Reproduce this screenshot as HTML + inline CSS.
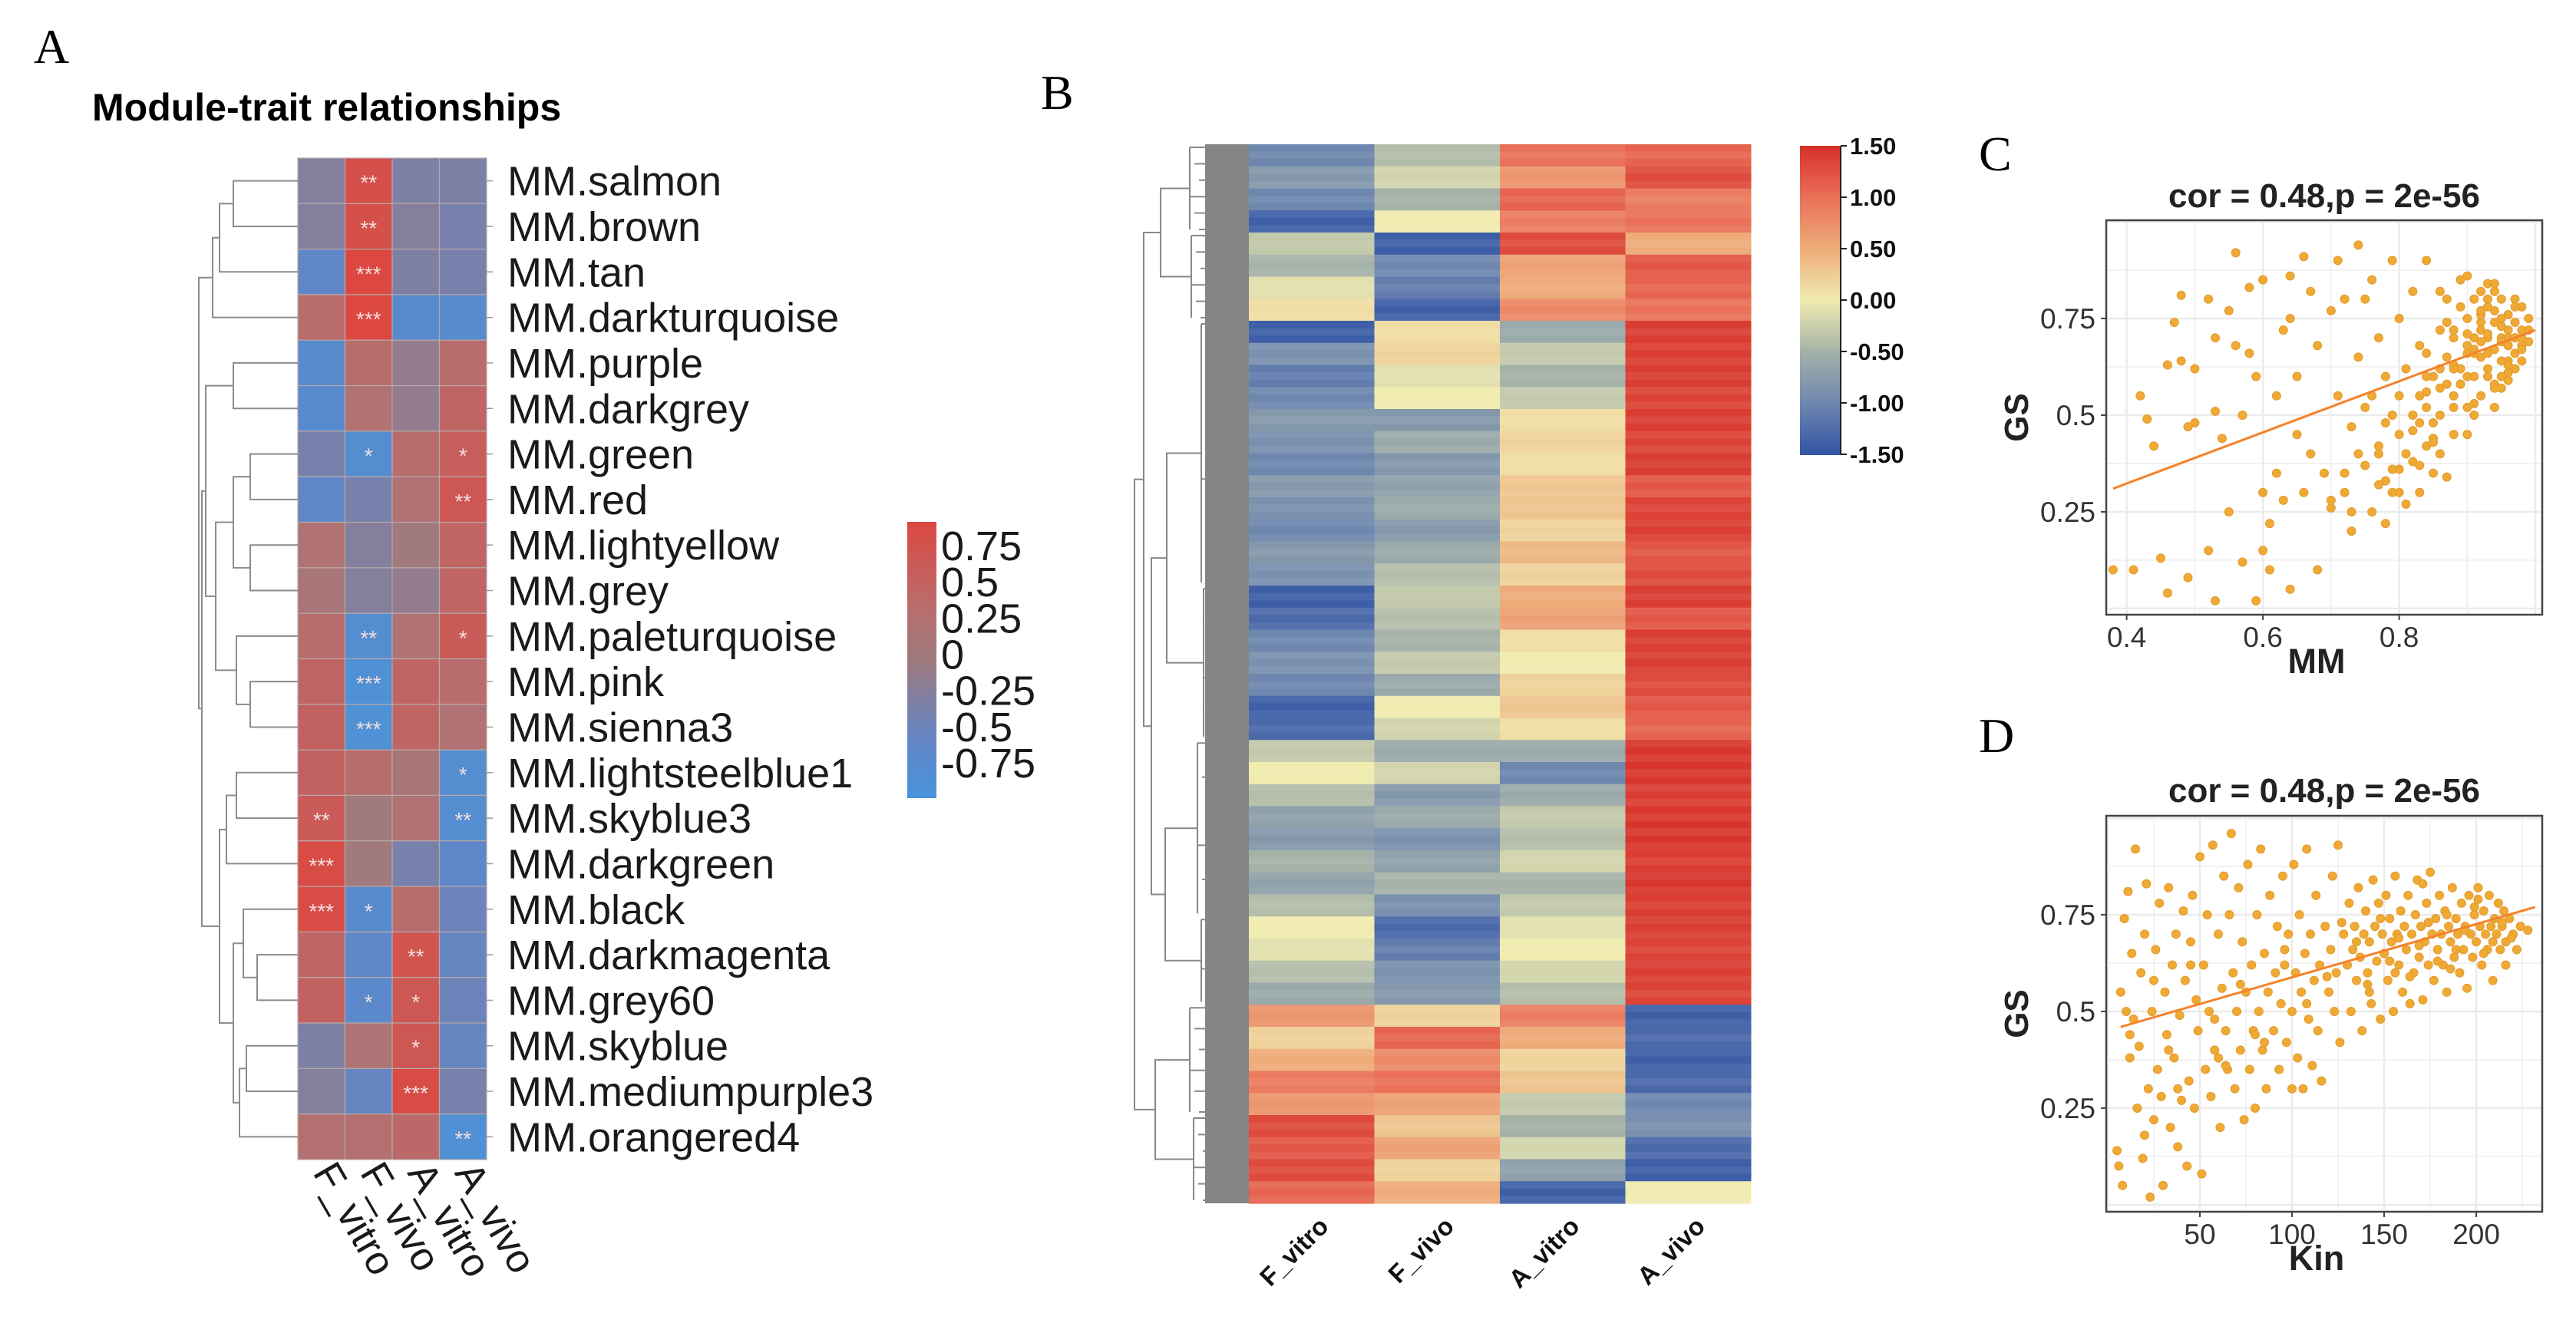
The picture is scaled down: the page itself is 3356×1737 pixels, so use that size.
<!DOCTYPE html>
<html><head><meta charset="utf-8"><style>
html,body{margin:0;padding:0;background:#fff;}
svg{display:block;font-family:"Liberation Sans",Arial,sans-serif;}
</style></head><body>
<svg id="fig" width="3356" height="1737" viewBox="0 0 3356 1737" xmlns="http://www.w3.org/2000/svg">
<rect width="3356" height="1737" fill="#fff"/>
<g id="panelA"></g>
<g id="panelB"></g>
<g id="panelC"></g>
<g id="panelD"></g>
</svg>
<script>
// ---------- Panel A data ----------
const modules = ["MM.salmon","MM.brown","MM.tan","MM.darkturquoise","MM.purple","MM.darkgrey","MM.green","MM.red","MM.lightyellow","MM.grey","MM.paleturquoise","MM.pink","MM.sienna3","MM.lightsteelblue1","MM.skyblue3","MM.darkgreen","MM.black","MM.darkmagenta","MM.grey60","MM.skyblue","MM.mediumpurple3","MM.orangered4"];
const traits = ["F_vitro","F_vivo","A_vitro","A_vivo"];
const corF_vitro = [-0.2,-0.2,-0.5,0.3,-0.6,-0.6,-0.3,-0.5,0.2,0.1,0.3,0.4,0.45,0.45,0.55,0.75,0.75,0.4,0.45,-0.25,-0.2,0.25];
const corF_vivo  = [0.7,0.7,0.8,0.8,0.3,0.2,-0.65,-0.3,-0.2,-0.2,-0.65,-0.7,-0.7,0.3,0.0,0.0,-0.6,-0.5,-0.55,0.15,-0.45,0.25];
const corA_vitro = [-0.25,-0.2,-0.25,-0.6,-0.1,-0.1,0.3,0.2,0.0,-0.1,0.2,0.4,0.4,0.1,0.2,-0.3,0.3,0.65,0.6,0.6,0.75,0.35];
const corA_vivo  = [-0.25,-0.3,-0.3,-0.6,0.3,0.4,0.5,0.6,0.4,0.4,0.55,0.3,0.2,-0.65,-0.65,-0.5,-0.4,-0.45,-0.4,-0.45,-0.3,-0.7];
const starsF_vitro = ["","","","","","","","","","","","","","","**","***","***","","","","",""];
const starsF_vivo  = ["**","**","***","***","","","*","","","","**","***","***","","","","*","","*","","",""];
const starsA_vitro = ["","","","","","","","","","","","","","","","","","**","*","*","***",""];
const starsA_vivo  = ["","","","","","","*","**","","","*","","","*","**","","","","","","","**"];
const legendATicks = [0.75,0.5,0.25,0,-0.25,-0.5,-0.75];

// ---------- Panel B data ----------
const bSamples = ["F_vitro","F_vivo","A_vitro","A_vivo"];
const zF_vitro = [-1.0,-0.8,-1.0,-1.4,-0.3,-0.5,-0.1,0.1,-1.4,-0.9,-1.1,-1.0,-0.8,-0.9,-1.0,-0.8,-0.9,-1.0,-0.8,-0.9,-1.4,-1.3,-1.0,-0.9,-1.0,-1.4,-1.3,-0.3,0.0,-0.4,-0.7,-0.8,-0.5,-0.7,-0.4,0.0,-0.1,-0.4,-0.6,0.7,0.2,0.5,0.9,0.7,1.3,1.2,1.3,1.1];
const zF_vivo  = [-0.4,-0.2,-0.5,0.0,-1.4,-1.0,-1.1,-1.4,0.1,0.2,-0.1,0.0,-0.8,-0.6,-0.8,-0.7,-0.6,-0.8,-0.6,-0.4,-0.3,-0.4,-0.5,-0.3,-0.6,0.0,-0.2,-0.6,-0.2,-0.8,-0.6,-0.9,-0.7,-0.5,-0.9,-1.3,-1.1,-0.9,-0.8,0.2,1.1,0.8,1.0,0.6,0.3,0.6,0.2,0.5];
const zA_vitro = [1.0,0.7,1.1,0.9,1.3,0.6,0.5,0.8,-0.6,-0.3,-0.5,-0.3,0.1,0.2,0.1,0.3,0.3,0.2,0.4,0.2,0.5,0.6,0.1,0.0,0.2,0.3,0.1,-0.6,-1.0,-0.6,-0.3,-0.4,-0.2,-0.5,-0.3,-0.1,0.0,-0.2,-0.4,0.9,0.5,0.2,0.3,-0.3,-0.5,-0.2,-0.7,-1.4];
const zA_vivo  = [1.1,1.3,0.9,1.0,0.5,1.2,1.1,1.0,1.4,1.4,1.4,1.35,1.4,1.35,1.4,1.2,1.35,1.4,1.2,1.3,1.4,1.2,1.4,1.4,1.3,1.2,1.1,1.45,1.45,1.4,1.45,1.45,1.4,1.45,1.4,1.4,1.35,1.4,1.35,-1.4,-1.3,-1.4,-1.3,-1.0,-0.9,-1.3,-1.4,0.0];
const legendBTicks = ["1.50","1.00","0.50","0.00","-0.50","-1.00","-1.50"];

// ---------- Panel C data (MM vs GS) ----------
const mmC = [0.38,0.41,0.42,0.43,0.44,0.45,0.46,0.46,0.47,0.48,0.48,0.49,0.49,0.5,0.5,0.52,0.52,0.53,0.53,0.53,0.54,0.55,0.55,0.56,0.56,0.57,0.57,0.58,0.58,0.59,0.59,0.6,0.6,0.6,0.61,0.61,0.62,0.62,0.63,0.63,0.64,0.64,0.64,0.65,0.65,0.66,0.66,0.67,0.67,0.68,0.68,0.69,0.7,0.7,0.71,0.71,0.72,0.72,0.73,0.73,0.74,0.74,0.75,0.75,0.76,0.76,0.77,0.77,0.78,0.78,0.79,0.79,0.8,0.8,0.8,0.81,0.82,0.82,0.83,0.83,0.84,0.84,0.85,0.85,0.86,0.86,0.87,0.87,0.88,0.88,0.88,0.89,0.89,0.9,0.9,0.9,0.91,0.91,0.92,0.92,0.92,0.93,0.93,0.93,0.94,0.94,0.94,0.95,0.95,0.95,0.96,0.96,0.96,0.97,0.97,0.97,0.98,0.98,0.99,0.99,0.91,0.89,0.87,0.86,0.85,0.84,0.83,0.82,0.81,0.79,0.78,0.76,0.74,0.93,0.95,0.97,0.92,0.9,0.88,0.94,0.96,0.98,0.95,0.93,0.91,0.89,0.97,0.99,0.94,0.92,0.9,0.87,0.86,0.84,0.96,0.98,0.93,0.95,0.91,0.88,0.85,0.83,0.8,0.77,0.72,0.7,
0.9,0.91,0.92,0.93,0.94,0.95,0.96,0.97,0.98,0.89,0.9,0.91,0.92,0.93,0.94,0.95,0.96,0.97,0.88,0.87,0.86,0.85,0.84,0.83,0.82,0.81,0.8,0.79,0.78,0.77,0.92,0.94,0.96,0.98,0.9,0.88,0.86,0.84,0.75,0.73];
const gsC = [0.1,0.1,0.55,0.49,0.42,0.13,0.63,0.04,0.74,0.81,0.64,0.47,0.08,0.48,0.62,0.8,0.15,0.7,0.51,0.02,0.44,0.77,0.25,0.92,0.68,0.12,0.5,0.66,0.83,0.02,0.6,0.85,0.15,0.3,0.22,0.1,0.55,0.35,0.72,0.28,0.86,0.75,0.05,0.6,0.45,0.91,0.3,0.82,0.4,0.1,0.68,0.35,0.77,0.26,0.9,0.55,0.3,0.8,0.2,0.47,0.94,0.65,0.37,0.52,0.85,0.25,0.7,0.42,0.33,0.6,0.9,0.5,0.45,0.75,0.3,0.62,0.38,0.82,0.55,0.68,0.42,0.9,0.6,0.35,0.72,0.5,0.65,0.8,0.55,0.7,0.45,0.62,0.85,0.68,0.52,0.75,0.6,0.8,0.65,0.72,0.55,0.7,0.78,0.62,0.67,0.74,0.58,0.7,0.8,0.64,0.72,0.68,0.76,0.7,0.74,0.66,0.72,0.68,0.72,0.75,0.5,0.78,0.58,0.82,0.48,0.66,0.3,0.5,0.4,0.3,0.22,0.55,0.4,0.84,0.6,0.62,0.82,0.6,0.63,0.52,0.64,0.78,0.73,0.66,0.7,0.58,0.8,0.69,0.77,0.74,0.66,0.74,0.62,0.56,0.7,0.64,0.71,0.57,0.67,0.72,0.44,0.48,0.36,0.4,0.35,0.28,
0.71,0.66,0.76,0.6,0.82,0.69,0.63,0.78,0.67,0.58,0.86,0.53,0.69,0.8,0.57,0.75,0.61,0.7,0.62,0.34,0.57,0.43,0.52,0.37,0.46,0.27,0.55,0.36,0.48,0.32,0.77,0.84,0.59,0.7,0.45,0.52,0.4,0.6,0.8,0.25];
const ticksCx = [0.4,0.6,0.8];
const ticksCy = [0.25,0.5,0.75];
const fitC = [[0.38,0.31],[1.0,0.72]];

// ---------- Panel D data (Kin vs GS) ----------
const kinD = [5,6,7,8,9,10,11,12,13,14,15,16,17,18,19,20,21,22,23,24,25,26,27,28,29,30,31,32,33,34,35,36,37,38,39,40,41,42,43,44,45,46,47,48,49,50,51,52,53,54,55,56,57,58,60,61,62,63,64,65,66,67,68,69,70,71,72,73,74,75,76,77,78,79,80,81,82,83,84,85,86,87,88,90,91,92,93,94,95,96,97,98,100,101,102,103,104,105,106,107,108,109,110,111,112,113,114,115,116,118,120,121,122,123,124,125,126,128,130,131,132,133,134,135,136,137,138,139,140,141,142,143,144,145,146,147,148,149,150,151,152,153,154,155,156,157,158,159,160,161,162,163,164,165,166,167,168,169,170,171,172,173,174,175,176,177,178,179,180,181,182,183,184,185,186,187,188,189,190,191,192,193,194,195,196,197,198,199,200,201,202,203,204,205,206,207,208,209,210,211,212,213,214,215,216,218,220,222,224,228,
12,25,38,45,58,64,72,85,96,108,119,127,135,141,148,153,158,164,169,174,179,184,189,194,199,204,209,214,219,142,156,171,186,201,216,60,80,100,33,20];
const gsD = [0.14,0.1,0.55,0.05,0.74,0.5,0.81,0.38,0.65,0.48,0.92,0.25,0.41,0.6,0.12,0.7,0.83,0.3,0.02,0.5,0.22,0.66,0.35,0.78,0.28,0.05,0.55,0.44,0.82,0.2,0.62,0.38,0.7,0.15,0.49,0.27,0.76,0.58,0.1,0.32,0.68,0.8,0.25,0.53,0.45,0.9,0.08,0.62,0.35,0.75,0.5,0.28,0.93,0.4,0.7,0.2,0.56,0.85,0.45,0.35,0.75,0.96,0.6,0.3,0.5,0.82,0.4,0.68,0.22,0.55,0.88,0.35,0.62,0.45,0.25,0.75,0.5,0.92,0.4,0.65,0.3,0.55,0.8,0.45,0.6,0.72,0.35,0.52,0.85,0.62,0.42,0.7,0.5,0.88,0.6,0.38,0.75,0.55,0.3,0.65,0.92,0.48,0.7,0.36,0.58,0.8,0.45,0.62,0.32,0.72,0.55,0.66,0.85,0.5,0.6,0.93,0.42,0.7,0.62,0.78,0.5,0.66,0.72,0.58,0.82,0.64,0.45,0.7,0.76,0.6,0.68,0.52,0.84,0.72,0.63,0.78,0.48,0.7,0.65,0.8,0.58,0.74,0.68,0.5,0.85,0.7,0.62,0.76,0.55,0.72,0.66,0.8,0.52,0.7,0.6,0.75,0.84,0.64,0.72,0.53,0.68,0.78,0.62,0.86,0.7,0.58,0.74,0.66,0.8,0.7,0.62,0.76,0.55,0.72,0.68,0.82,0.64,0.74,0.7,0.6,0.78,0.66,0.72,0.56,0.8,0.7,0.64,0.75,0.68,0.82,0.72,0.62,0.76,0.7,0.66,0.8,0.72,0.58,0.74,0.7,0.78,0.66,0.72,0.76,0.68,0.74,0.7,0.66,0.72,0.71,
0.44,0.58,0.3,0.62,0.48,0.36,0.57,0.42,0.66,0.52,0.59,0.73,0.68,0.57,0.74,0.63,0.69,0.59,0.67,0.73,0.63,0.75,0.66,0.71,0.77,0.65,0.68,0.73,0.69,0.55,0.6,0.83,0.61,0.79,0.62,0.38,0.44,0.3,0.4,0.18];
const ticksDx = [50,100,150,200];
const ticksDy = [0.25,0.5,0.75];
const fitD = [[7,0.46],[232,0.77]];

// ---------- helpers ----------
const NS = "http://www.w3.org/2000/svg";
function mk(tag, attrs, parent, txt){
  const e = document.createElementNS(NS, tag);
  for (const k in attrs) e.setAttribute(k, attrs[k]);
  if (txt !== undefined) e.textContent = txt;
  parent.appendChild(e);
  return e;
}
function lerpColor(stops, v){
  if (v <= stops[0][0]) return stops[0][1];
  for (let i=1;i<stops.length;i++){
    if (v <= stops[i][0]){
      const t=(v-stops[i-1][0])/(stops[i][0]-stops[i-1][0]);
      const a=stops[i-1][1], b=stops[i][1];
      return "rgb("+a.map((c,j)=>Math.round(c+(b[j]-c)*t)).join(",")+")";
    }
  }
  const l=stops[stops.length-1][1]; return "rgb("+l.join(",")+")";
}
const stopsA = [[-0.8,[72,148,218]],[-0.5,[95,135,200]],[-0.25,[125,128,165]],[0,[160,122,125]],[0.25,[180,112,112]],[0.5,[198,95,92]],[0.8,[220,72,65]]];
const stopsB = [[-1.5,[50,85,165]],[-1.0,[110,135,175]],[-0.5,[165,178,168]],[0,[240,235,175]],[0.5,[238,172,122]],[1.0,[234,112,88]],[1.5,[214,48,40]]];
function fixColor(c){ return Array.isArray(c) ? "rgb("+c.join(",")+")" : c; }

// ================= PANEL A =================
(function(){
  const g = document.getElementById("panelA");
  let t;
  t = mk("text",{x:44,y:82,"font-family":"Liberation Serif, serif","font-size":64},g,"A");
   
  t = mk("text",{x:120,y:157,"font-size":50,"font-weight":"bold"},g,"Module-trait relationships");
   
  const x0=388, y0=206, cw=61.5, rh=(1511-206)/22;
  const cols=[corF_vitro,corF_vivo,corA_vitro,corA_vivo];
  const stars=[starsF_vitro,starsF_vivo,starsA_vitro,starsA_vivo];
  const cells = mk("g",{},g);
   
  for (let c=0;c<4;c++){
    for (let r=0;r<modules.length;r++){
      const rc = mk("rect",{x:x0+c*cw,y:y0+r*rh,width:cw,height:rh,fill:fixColor(lerpColor(stopsA,cols[c][r])),stroke:"#b8a8a8","stroke-width":1.2},cells);
      
      
      if (stars[c][r]){
        const s = mk("text",{x:x0+c*cw+cw/2,y:y0+r*rh+rh/2+12,"text-anchor":"middle","font-size":28,fill:"#f2dede"},cells,stars[c][r]);
         
      }
    }
  }
  for (let r=0;r<modules.length;r++){
    const lb = mk("text",{x:661,y:y0+r*rh+rh/2+19,"font-size":54,fill:"#1a1a1a"},g,modules[r]);
    
    
    mk("line",{x1:634,x2:642,y1:y0+r*rh+rh/2,y2:y0+r*rh+rh/2,stroke:"#999","stroke-width":1.5},g);
  }
  for (let c=0;c<4;c++){
    const cx=x0+c*cw+cw/2-12, cy=1528;
    const lb = mk("text",{x:cx,y:cy,"font-size":52,fill:"#1a1a1a",transform:"rotate(60 "+cx+" "+cy+")"},g,traits[c]);
    
    
  }
  const dg = mk("g",{stroke:"#8c8c8c","stroke-width":2,fill:"none"},g);
   
  const leaf = i => ({x:x0, y:y0+i*rh+rh/2});
  function join(a,b,x){
    mk("path",{d:"M"+a.x+" "+a.y+"H"+x+"V"+b.y+"H"+b.x},dg);
    return {x:x, y:(a.y+b.y)/2};
  }
  const L=[]; for(let i=0;i<22;i++) L.push(leaf(i));
  const n1=join(L[0],L[1],304), n2=join(n1,L[2],286), n3=join(n2,L[3],277);
  const n4=join(L[4],L[5],304);
  const n5=join(L[6],L[7],326), n6=join(L[8],L[9],326), n7=join(n5,n6,304);
  const n8=join(L[11],L[12],326), n9=join(L[10],n8,308);
  const n10=join(n7,n9,281), n11=join(n4,n10,268);
  const n12=join(L[13],L[14],308), n13=join(n12,L[15],295);
  const n14=join(L[17],L[18],335), n15=join(L[16],n14,317);
  const n16=join(L[19],L[20],321), n17=join(n16,L[21],312);
  const n18=join(n15,n17,304), n19=join(n13,n18,286);
  const n20=join(n11,n19,263), n21=join(n3,n20,259);
  const lg = mk("g",{},g);
   
  const ly0=680, ly1=1039, lx=1182, lw=38;
  const nSeg=60;
  for(let i=0;i<nSeg;i++){
    const v=0.8-(1.6)*(i+0.5)/nSeg;
    mk("rect",{x:lx,y:ly0+(ly1-ly0)*i/nSeg,width:lw,height:(ly1-ly0)/nSeg+1,fill:fixColor(lerpColor(stopsA,v))},lg);
  }
  const ty = v => 711 + (0.75 - v)/1.5*(994-711);
  legendATicks.forEach(v=>{
    const tx = mk("text",{x:1226,y:ty(v)+19,"font-size":54,fill:"#1a1a1a"},lg,String(v));
     
  });
})();

// ================= PANEL B =================
(function(){
  const g = document.getElementById("panelB");
  let t = mk("text",{x:1356,y:142,"font-family":"Liberation Serif, serif","font-size":64},g,"B");
   
  const x0=1627, y0=188, y1=1568, cw=(2281-1627)/4;
  const cols=[zF_vitro,zF_vivo,zA_vitro,zA_vivo];
  const n=zF_vitro.length, rh=(y1-y0)/n;
  const hm = mk("g",{},g);
   
  for(let c=0;c<4;c++){
    for(let r=0;r<n;r++){
      const rc = mk("rect",{x:x0+c*cw,y:y0+r*rh,width:cw+0.5,height:rh+0.6,fill:fixColor(lerpColor(stopsB,cols[c][r]))},hm);
      
      
    }
  }
  for(let r=0;r<n*3;r++){
    if(r%2) mk("rect",{x:x0,y:y0+r*rh/3,width:4*cw,height:rh/3,fill:"#fff",opacity:0.07},hm);
  }
  for(let c=0;c<4;c++){
    const ex=x0+c*cw+cw/2+24, ey=1600;
    const lb = mk("text",{x:ex,y:ey,"font-size":33,"font-weight":"bold","text-anchor":"end",fill:"#111",transform:"rotate(-45 "+ex+" "+ey+")"},g,bSamples[c]);
    
    
  }
  const dg = mk("g",{stroke:"#888","stroke-width":2,fill:"none"},g);
   
  mk("rect",{x:1570,y:y0,width:x0-1570,height:y1-y0,fill:"#858585",stroke:"none"},dg);
  const bandY = i => y0 + i*rh;
  const groups=[[0,4,1530],[4,8,1532],[8,20,1545],[20,27,1548],[27,35,1540],[35,39,1545],[39,44,1530],[44,48,1535]];
  const mids=[];
  groups.forEach(gp=>{
    const a=bandY(gp[0])+4, b=bandY(gp[1])-4;
    for(let k=0;k<6;k++){
      const yy=a+(b-a)*k/5;
      mk("path",{d:"M1572 "+yy+"H"+(gp[2]+20+k%3*6)},dg);
    }
    mk("path",{d:"M"+(gp[2]+20)+" "+a+"V"+b},dg);
    mk("path",{d:"M"+gp[2]+" "+((a+b)/2)+"H"+(gp[2]+20)},dg);
    mids.push((a+b)/2);
  });
  function br(ya,yb,x,xa,xb){ mk("path",{d:"M"+xa+" "+ya+"H"+x+"V"+yb+"H"+xb},dg); return (ya+yb)/2; }
  const m1=br(mids[0],mids[1],1512,1530,1532);
  const m2=br(mids[2],mids[3],1520,1545,1548);
  const m3=br(mids[4],mids[5],1518,1540,1545);
  const m4=br(m2,m3,1500,1520,1518);
  const m5=br(m1,m4,1490,1512,1500);
  const m6=br(mids[6],mids[7],1505,1530,1535);
  br(m5,m6,1478,1490,1505);
  const lg = mk("g",{},g);
   
  const cy0=190, cy1=592, cx=2345, cwid=53, ns=80;
  for(let i=0;i<ns;i++){
    const v=1.5-3*(i+0.5)/ns;
    mk("rect",{x:cx,y:cy0+(cy1-cy0)*i/ns,width:cwid,height:(cy1-cy0)/ns+1,fill:fixColor(lerpColor(stopsB,v))},lg);
  }
  mk("line",{x1:2398,x2:2398,y1:cy0,y2:cy1,stroke:"#222","stroke-width":2},lg);
  legendBTicks.forEach((s,i)=>{
    const yy=cy0+(cy1-cy0)*i/(legendBTicks.length-1);
    mk("line",{x1:2398,x2:2406,y1:yy,y2:yy,stroke:"#222","stroke-width":2},lg);
    const tx=mk("text",{x:2410,y:yy+11,"font-size":31,"font-weight":"bold",fill:"#111"},lg,s);
     
  });
})();

// ================= SCATTER PANELS =================
function scatter(gid, letter, letterY, box, xdom, ydom, xs, ys, xticks, yticks, fit, xlab, titleY){
  const g=document.getElementById(gid);
  let t=mk("text",{x:2578,y:letterY,"font-family":"Liberation Serif, serif","font-size":64},g,letter);
   
  const sx=v=>box.x0+(v-xdom[0])/(xdom[1]-xdom[0])*(box.x1-box.x0);
  const sy=v=>box.y1-(v-ydom[0])/(ydom[1]-ydom[0])*(box.y1-box.y0);
  t=mk("text",{x:(box.x0+box.x1)/2,y:titleY,"text-anchor":"middle","font-size":44,"font-weight":"bold",fill:"#222"},g,"cor = 0.48,p = 2e-56");
   
  const grid=mk("g",{stroke:"#ebebeb","stroke-width":1.5},g);
   
  const xstep=xticks[1]-xticks[0], ystep=yticks[1]-yticks[0];
  for(let v=xticks[0]-xstep*3;v<=xdom[1];v+=xstep/2){
    if(v<xdom[0]) continue;
    mk("line",{x1:sx(v),x2:sx(v),y1:box.y0,y2:box.y1,"stroke-width":(Math.abs((v-xticks[0])/xstep%1)<1e-6)?2.5:1.2},grid);
  }
  for(let v=yticks[0]-ystep*3;v<=ydom[1];v+=ystep/2){
    if(v<ydom[0]) continue;
    mk("line",{x1:box.x0,x2:box.x1,y1:sy(v),y2:sy(v),"stroke-width":(Math.abs((v-yticks[0])/ystep%1)<1e-6)?2.5:1.2},grid);
  }
  const pts=mk("g",{},g);
   
  for(let i=0;i<xs.length;i++){
    const p=mk("circle",{cx:sx(xs[i]),cy:sy(ys[i]),r:5.5,fill:"#eeaa35",stroke:"#e39a2a","stroke-width":1},pts);
    
    
  }
  const fl=mk("line",{x1:sx(fit[0][0]),y1:sy(fit[0][1]),x2:sx(fit[1][0]),y2:sy(fit[1][1]),stroke:"#f5822a","stroke-width":3},g);
   
  const fr=mk("rect",{x:box.x0,y:box.y0,width:box.x1-box.x0,height:box.y1-box.y0,fill:"none",stroke:"#444","stroke-width":2.5},g);
   
  xticks.forEach(v=>{
    mk("line",{x1:sx(v),x2:sx(v),y1:box.y1,y2:box.y1+7,stroke:"#444","stroke-width":2},g);
    const tx=mk("text",{x:sx(v),y:box.y1+42,"text-anchor":"middle","font-size":37,fill:"#333"},g,String(v));
     
  });
  yticks.forEach(v=>{
    mk("line",{x1:box.x0-7,x2:box.x0,y1:sy(v),y2:sy(v),stroke:"#444","stroke-width":2},g);
    const tx=mk("text",{x:box.x0-14,y:sy(v)+13,"text-anchor":"end","font-size":37,fill:"#333"},g,String(v));
     
  });
  const ymid=(box.y0+box.y1)/2;
  t=mk("text",{x:2642,y:ymid,"text-anchor":"middle","font-size":44,"font-weight":"bold",fill:"#222",transform:"rotate(-90 2642 "+ymid+")"},g,"GS");
   
  t=mk("text",{x:(box.x0+box.x1)/2-10,y:box.y1+76,"text-anchor":"middle","font-size":45,"font-weight":"bold",fill:"#222"},g,xlab);
   
}
scatter("panelC","C",222,{x0:2744,x1:3312,y0:287,y1:801},[0.37,1.01],[-0.016,1.004],mmC,gsC,ticksCx,ticksCy,fitC,"MM",270);
scatter("panelD","D",980,{x0:2744,x1:3312,y0:1063,y1:1579},[-0.83,235.8],[-0.018,1.006],kinD,gsD,ticksDx,ticksDy,fitD,"Kin",1045);
</script>
</body></html>
